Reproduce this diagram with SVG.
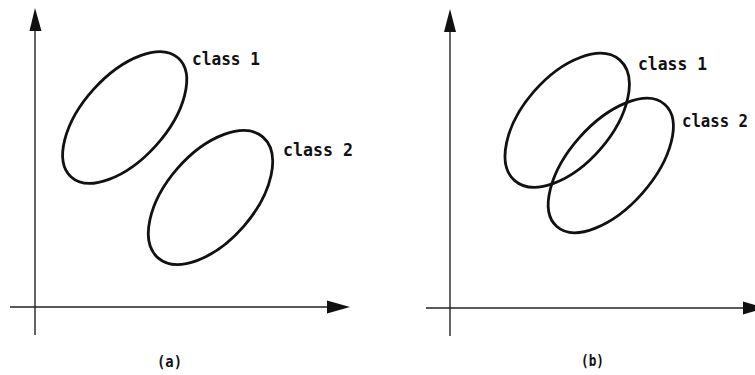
<svg xmlns="http://www.w3.org/2000/svg" width="755" height="375" viewBox="0 0 755 375">
<style>
.axis{stroke:#222;stroke-width:1.4;fill:none}
.head{fill:#111}
.ell{fill:none;stroke:#111;stroke-width:2.8}
.lbl{font-family:"DejaVu Sans Mono","Liberation Mono",monospace;font-weight:bold;font-size:17px;fill:#111}
.cap{font-family:"DejaVu Sans Mono","Liberation Mono",monospace;font-weight:bold;font-size:15px;fill:#111}
</style>
<rect width="755" height="375" fill="#fff"/>
<g id="connectors">
  <line class="axis" x1="35" y1="335" x2="35" y2="28"/>
  <polygon class="head" points="35,8 29.5,31 41.5,31"/>
  <line class="axis" x1="10" y1="307" x2="330" y2="307"/>
  <polygon class="head" points="350,307 327,300.5 327,313.5"/>
  <line class="axis" x1="450" y1="336" x2="450" y2="30"/>
  <polygon class="head" points="450,9 444,32 456,32"/>
  <line class="axis" x1="426" y1="308" x2="746" y2="308"/>
  <polygon class="head" points="766,308 743,301.5 743,314.5"/>
</g>
<g id="a-class1">
  <ellipse class="ell" cx="124.7" cy="117.5" rx="80" ry="42" transform="rotate(-48 124.7 117.5)"/>
  <text class="lbl" x="192" y="65" textLength="68" lengthAdjust="spacingAndGlyphs">class 1</text>
</g>
<g id="a-class2">
  <ellipse class="ell" cx="210.5" cy="197.5" rx="80" ry="44" transform="rotate(-49 210.5 197.5)"/>
  <text class="lbl" x="283" y="156" textLength="70" lengthAdjust="spacingAndGlyphs">class 2</text>
</g>
<g id="b-class1">
  <ellipse class="ell" cx="567.2" cy="120.3" rx="80" ry="44" transform="rotate(-49 567.2 120.3)"/>
  <text class="lbl" x="638" y="70" textLength="69" lengthAdjust="spacingAndGlyphs">class 1</text>
</g>
<g id="b-class2">
  <ellipse class="ell" cx="610.8" cy="165.5" rx="81.5" ry="42" transform="rotate(-48.5 610.8 165.5)"/>
  <text class="lbl" x="682" y="126.5" textLength="66" lengthAdjust="spacingAndGlyphs">class 2</text>
</g>
<g id="captions">
  <text class="cap" x="157" y="367" textLength="25" lengthAdjust="spacingAndGlyphs">(a)</text>
  <text class="cap" x="581" y="366" textLength="23" lengthAdjust="spacingAndGlyphs">(b)</text>
</g>
</svg>
